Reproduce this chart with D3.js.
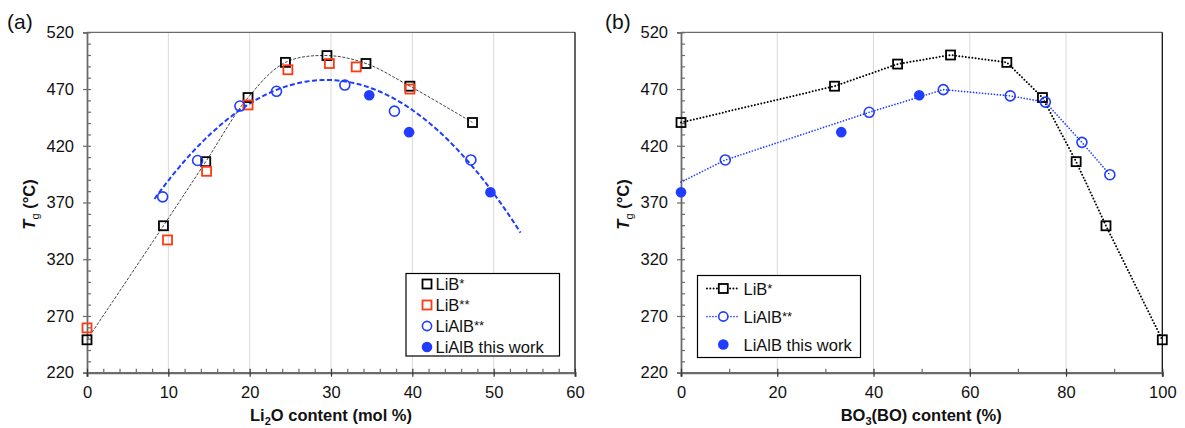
<!DOCTYPE html>
<html>
<head>
<meta charset="utf-8">
<script src="https://cdn.jsdelivr.net/npm/d3@7"></script>
<style>
  body { margin: 0; background: #fff; }
  svg { display: block; font-family: "Liberation Sans", Arial, sans-serif; }
</style>
</head>
<body>
<svg id="chart" width="1185" height="428"></svg>
<script>
// ---- Panel (a): Tg versus Li2O content (mol %) ----
const liBStarA_x   = [0, 9.4, 14.6, 19.8, 24.4, 29.5, 34.3, 39.7, 47.4];
const liBStarA_y   = [249, 349.5, 406, 462.5, 493.5, 499.5, 492.5, 472.5, 440.5];
const liB2StarA_x  = [0, 9.9, 14.7, 19.8, 24.7, 29.8, 33.1, 39.7];
const liB2StarA_y  = [259.5, 337, 397.5, 456, 487, 492.5, 489.5, 470];
const liAlB2A_x    = [9.3, 13.6, 18.8, 23.3, 31.7, 37.8, 47.2];
const liAlB2A_y    = [375, 407, 455, 468, 473.5, 450.5, 407.5];
const liAlBWorkA_x = [34.7, 39.6, 49.6];
const liAlBWorkA_y = [464.5, 432, 379];
// quadratic trend of LiAlB glasses, vertex form: [x at maximum, Tg at maximum, curvature]
const liAlBTrendA = [29.4, 478, 0.2356];
const liAlBTrendRangeA = [8.3, 53.3];

// ---- Panel (b): Tg versus BO3(BO) content (%) ----
const liBStarB_x   = [0, 31.9, 45.0, 56.0, 67.7, 75.1, 82.1, 88.3, 100];
const liBStarB_y   = [440.5, 472.5, 492, 500, 493.5, 462.5, 406, 349.5, 249];
const liAlB2B_x    = [9.2, 39.1, 54.5, 68.4, 75.7, 83.3, 89.1];
const liAlB2B_y    = [407.5, 449.5, 469.5, 464, 458.5, 423, 394.5];
// connecting line for LiAlB** starts from the glass-former end point
const liAlB2B_lineStart = [0, 388];
const liAlBWorkB_x = [0, 33.3, 49.5];
const liAlBWorkB_y = [379, 432, 464.5];

// ---- axes ----
const yTicks  = [220, 270, 320, 370, 420, 470, 520];
const xTicksA = [0, 10, 20, 30, 40, 50, 60];
const xTicksB = [0, 20, 40, 60, 80, 100];

const zip = (xs, ys) => xs.map((x, i) => [x, ys[i]]);

const BLUE = "#1f3cff";
const RED = "#ff3a12";
const AXIS = "#6b6b6b";
const svg = d3.select("#chart");

function drawFrame(g, x, y, xTicks, xMinorStep, x0, x1, label) {
  const [r0, r1] = x.range();
  const [b, t] = y.range();
  // vertical grid lines at major x ticks
  g.selectAll(".grid").data(xTicks.filter(v => v !== x0 && v !== x1)).join("line")
    .attr("x1", d => x(d)).attr("x2", d => x(d))
    .attr("y1", t).attr("y2", b)
    .attr("stroke", "#d9d9d9").attr("stroke-width", 1);
  // top and right borders
  g.append("line").attr("x1", r0).attr("x2", r1).attr("y1", t).attr("y2", t)
    .attr("stroke", AXIS).attr("stroke-width", 1.3);
  g.append("line").attr("x1", r1).attr("x2", r1).attr("y1", t).attr("y2", b)
    .attr("stroke", "#111").attr("stroke-width", 1.3);

  // y axis: major ticks crossing, minor ticks inside
  const yMinor = d3.range(220, 521, 10).filter(v => !yTicks.includes(v));
  g.append("g").attr("transform", `translate(${r0},0)`)
    .call(d3.axisLeft(y).tickValues(yMinor).tickSize(-4).tickFormat(""))
    .call(s => s.select(".domain").remove())
    .call(s => s.selectAll("line").attr("stroke", AXIS).attr("stroke-width", 1.2));
  const ya = g.append("g").attr("transform", `translate(${r0},0)`)
    .call(d3.axisLeft(y).tickValues(yTicks).tickSize(4).tickPadding(9));
  ya.select(".domain").attr("stroke", AXIS).attr("stroke-width", 1.8);
  ya.selectAll(".tick line").attr("stroke", AXIS).attr("stroke-width", 1.2).attr("x2", -4)
    .clone().attr("x2", 4);
  ya.selectAll("text").attr("font-size", 16.5).attr("fill", "#111")
    .attr("font-family", "Liberation Sans, Arial, sans-serif");

  // x axis
  const xMinor = d3.range(x0, x1 + 0.001, xMinorStep).filter(v => !xTicks.includes(v));
  g.append("g").attr("transform", `translate(0,${b})`)
    .call(d3.axisBottom(x).tickValues(xMinor).tickSize(-4).tickFormat(""))
    .call(s => s.select(".domain").remove())
    .call(s => s.selectAll("line").attr("stroke", AXIS).attr("stroke-width", 1.2));
  const xa = g.append("g").attr("transform", `translate(0,${b})`)
    .call(d3.axisBottom(x).tickValues(xTicks).tickSize(4).tickPadding(10));
  xa.select(".domain").attr("stroke", AXIS).attr("stroke-width", 2.2);
  xa.selectAll(".tick line").attr("stroke", "#333").attr("stroke-width", 1.2)
    .clone().attr("y2", -4);
  xa.selectAll("text").attr("font-size", 16.5).attr("fill", "#111")
    .attr("font-family", "Liberation Sans, Arial, sans-serif");

  // y label: T_g (°C)
  const yl = g.append("text")
    .attr("transform", `translate(${r0 - 52},${(t + b) / 2 + 2}) rotate(-90)`)
    .attr("text-anchor", "middle").attr("font-size", 16.5).attr("font-weight", "bold").attr("fill", "#111");
  yl.append("tspan").attr("font-style", "italic").text("T");
  yl.append("tspan").attr("font-size", 11).attr("dy", 4).attr("font-weight", "normal").text("g");
  yl.append("tspan").attr("dy", -4).text(" (°C)");

  // x label
  const xl = g.append("text").attr("x", (r0 + r1) / 2 + label.dx).attr("y", b + 48)
    .attr("text-anchor", "middle").attr("font-size", 16.5).attr("font-weight", "bold").attr("fill", "#111");
  label.parts.forEach(p => {
    const ts = xl.append("tspan").text(p.t);
    if (p.sub) ts.attr("font-size", 11).attr("dy", 4);
    if (p.up) ts.attr("dy", -4);
  });
}

function squares(g, pts, x, y, color) {
  g.selectAll(null).data(pts).join("rect")
    .attr("x", d => x(d[0]) - 4.5).attr("y", d => y(d[1]) - 4.5)
    .attr("width", 9).attr("height", 9)
    .attr("fill", "none").attr("stroke", color).attr("stroke-width", 1.8);
}
function circles(g, pts, x, y, filled) {
  g.selectAll(null).data(pts).join("circle")
    .attr("cx", d => x(d[0])).attr("cy", d => y(d[1]))
    .attr("r", filled ? 5.3 : 5)
    .attr("fill", filled ? BLUE : "none")
    .attr("stroke", BLUE).attr("stroke-width", filled ? 0 : 1.6);
}

function legendText(lg, x, y, label) {
  const tx = lg.append("text").attr("x", x).attr("y", y)
    .attr("font-size", 16.5).attr("fill", "#111");
  const m = label.match(/^([^*]*)(\**)$/);
  tx.append("tspan").text(m[1]);
  if (m[2]) tx.append("tspan").attr("font-size", 13).attr("dy", -2).text(m[2]);
}

// ================= Panel (a) =================
{
  const xA = d3.scaleLinear().domain([0, 60]).range([87, 575]);
  const yA = d3.scaleLinear().domain([220, 520]).range([372.7, 32.3]);
  const g = svg.append("g");
  drawFrame(g, xA, yA, xTicksA, 2, 0, 60,
    { dx: 0, parts: [{ t: "Li" }, { t: "2", sub: true }, { t: "O content (mol %)", up: true }] });

  // smoothed line through LiB*
  g.append("path").datum(zip(liBStarA_x, liBStarA_y))
    .attr("d", d3.line().x(d => xA(d[0])).y(d => yA(d[1])).curve(d3.curveCatmullRom.alpha(0.5)))
    .attr("fill", "none").attr("stroke", "#444").attr("stroke-width", 1)
    .attr("stroke-dasharray", "3,1.5");

  // quadratic trend of the LiAlB glasses
  const [h, k, a] = liAlBTrendA;
  const trend = v => k - a * (v - h) * (v - h);
  const fx = d3.range(liAlBTrendRangeA[0], liAlBTrendRangeA[1] + 0.01, 0.25);
  g.append("path").datum(fx.map(v => [v, trend(v)]))
    .attr("d", d3.line().x(d => xA(d[0])).y(d => yA(d[1])))
    .attr("fill", "none").attr("stroke", BLUE).attr("stroke-width", 2)
    .attr("stroke-dasharray", "5,2.5");

  squares(g, zip(liBStarA_x, liBStarA_y), xA, yA, "#000");
  squares(g, zip(liB2StarA_x, liB2StarA_y), xA, yA, RED);
  circles(g, zip(liAlB2A_x, liAlB2A_y), xA, yA, false);
  circles(g, zip(liAlBWorkA_x, liAlBWorkA_y), xA, yA, true);

  // legend
  const lg = g.append("g");
  lg.append("rect").attr("x", 406).attr("y", 273.5).attr("width", 153.5).attr("height", 82.5)
    .attr("fill", "#fff").attr("stroke", "#000").attr("stroke-width", 1.2);
  const items = [
    { label: "LiB*", kind: "sq", color: "#000" },
    { label: "LiB**", kind: "sq", color: RED },
    { label: "LiAlB**", kind: "open" },
    { label: "LiAlB this work", kind: "fill" }
  ];
  items.forEach((it, i) => {
    const cy = 284 + i * 21;
    if (it.kind === "sq") {
      lg.append("rect").attr("x", 422.5).attr("y", cy - 4.5).attr("width", 9).attr("height", 9)
        .attr("fill", "none").attr("stroke", it.color).attr("stroke-width", 1.8);
    } else {
      lg.append("circle").attr("cx", 427).attr("cy", cy).attr("r", it.kind === "fill" ? 5.3 : 4.6)
        .attr("fill", it.kind === "fill" ? BLUE : "none")
        .attr("stroke", BLUE).attr("stroke-width", it.kind === "fill" ? 0 : 1.6);
    }
    legendText(lg, 435.5, cy + 6, it.label);
  });

  svg.append("text").attr("x", 7).attr("y", 29).attr("font-size", 21).attr("fill", "#111").text("(a)");
}

// ================= Panel (b) =================
{
  const xB = d3.scaleLinear().domain([0, 100]).range([681, 1162.3]);
  const yB = d3.scaleLinear().domain([220, 520]).range([372.7, 32.3]);
  const g = svg.append("g");
  drawFrame(g, xB, yB, xTicksB, 10, 0, 100,
    { dx: -0.5, parts: [{ t: "BO" }, { t: "3", sub: true }, { t: "(BO) content (%)", up: true }] });

  const line = d3.line().x(d => xB(d[0])).y(d => yB(d[1]));
  g.append("path").datum(zip(liBStarB_x, liBStarB_y))
    .attr("d", line).attr("fill", "none").attr("stroke", "#000").attr("stroke-width", 2)
    .attr("stroke-dasharray", "0,3.3").attr("stroke-linecap", "round");
  g.append("path").datum([liAlB2B_lineStart].concat(zip(liAlB2B_x, liAlB2B_y)))
    .attr("d", line).attr("fill", "none").attr("stroke", BLUE).attr("stroke-width", 1.7)
    .attr("stroke-dasharray", "0,3").attr("stroke-linecap", "round");

  squares(g, zip(liBStarB_x, liBStarB_y), xB, yB, "#000");
  circles(g, zip(liAlB2B_x, liAlB2B_y), xB, yB, false);
  circles(g, zip(liAlBWorkB_x, liAlBWorkB_y), xB, yB, true);

  // legend
  const lg = g.append("g");
  lg.append("rect").attr("x", 697.5).attr("y", 275.5).attr("width", 163).attr("height", 82)
    .attr("fill", "#fff").attr("stroke", "#000").attr("stroke-width", 1.2);
  const items = [
    { label: "LiB*", kind: "sq" },
    { label: "LiAlB**", kind: "open" },
    { label: "LiAlB this work", kind: "fill" }
  ];
  items.forEach((it, i) => {
    const cy = 288.5 + i * 28;
    if (it.kind !== "fill") {
      lg.append("line").attr("x1", 707).attr("x2", 739).attr("y1", cy).attr("y2", cy)
        .attr("stroke", it.kind === "sq" ? "#000" : BLUE).attr("stroke-width", it.kind === "sq" ? 2 : 1.7)
        .attr("stroke-dasharray", it.kind === "sq" ? "0,3.3" : "0,3").attr("stroke-linecap", "round");
    }
    if (it.kind === "sq") {
      lg.append("rect").attr("x", 718.8).attr("y", cy - 4.5).attr("width", 9).attr("height", 9)
        .attr("fill", "#fff").attr("stroke", "#000").attr("stroke-width", 1.8);
    } else {
      lg.append("circle").attr("cx", 723.3).attr("cy", cy).attr("r", it.kind === "fill" ? 5.3 : 4.6)
        .attr("fill", it.kind === "fill" ? BLUE : "#fff")
        .attr("stroke", BLUE).attr("stroke-width", it.kind === "fill" ? 0 : 1.6);
    }
    legendText(lg, 743.5, cy + 6, it.label);
  });

  svg.append("text").attr("x", 605).attr("y", 29).attr("font-size", 21).attr("fill", "#111").text("(b)");
}
</script>
</body>
</html>
